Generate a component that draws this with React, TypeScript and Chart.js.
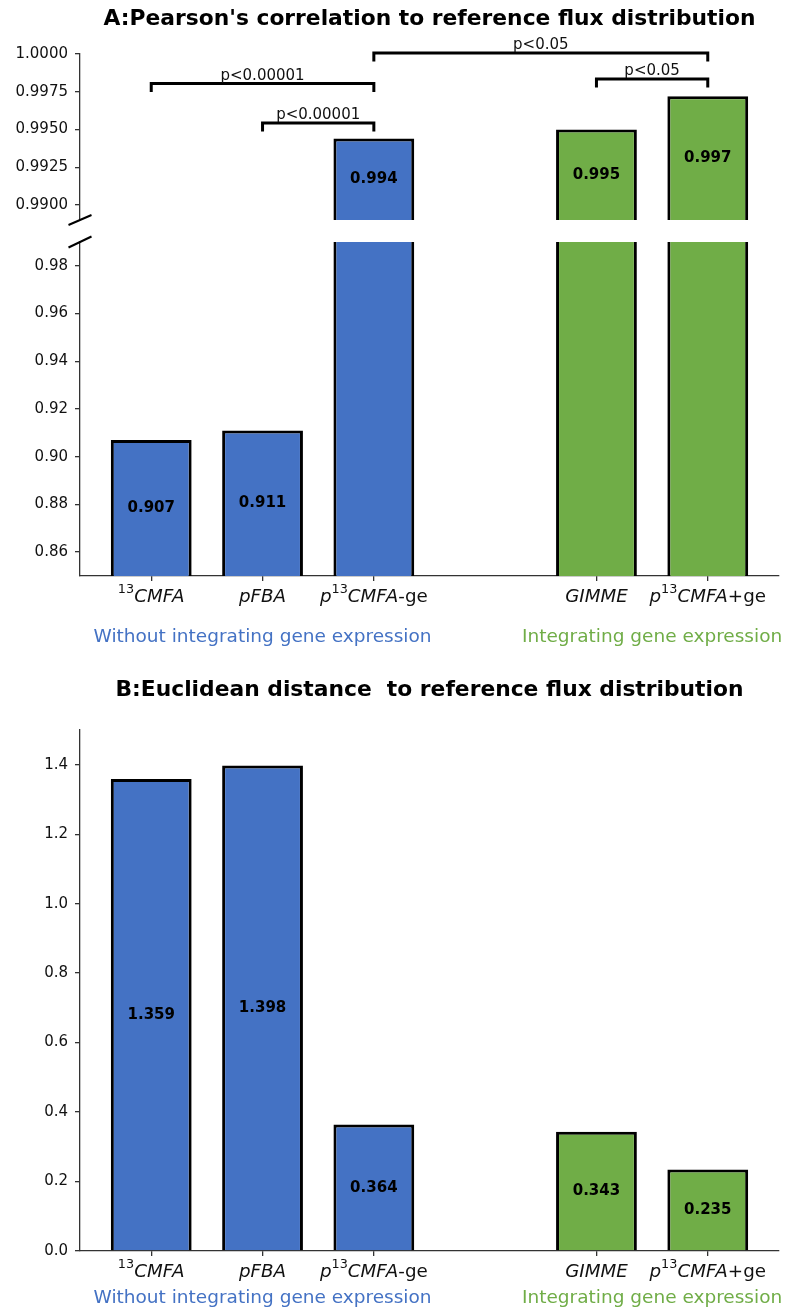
import React, { useEffect, useRef } from 'react';
import { Chart, registerables } from 'chart.js';

Chart.register(...registerables);

// ---------------- data ----------------
const categories = ['$^{13}CMFA$', '$pFBA$', '$p^{13}CMFA$-ge', '$GIMME$', '$p^{13}CMFA$+ge'];
const positions = [0, 1, 2, 4, 5];
const pearsonValues = [0.907, 0.911, 0.9944, 0.995, 0.9972];
const euclideanValues = [1.359, 1.398, 0.364, 0.343, 0.235];
const barColors = ['#4472C4', '#4472C4', '#4472C4', '#70AD47', '#70AD47'];
const groupLabels = ['Without integrating gene expression', 'Integrating gene expression'];
const groupColors = ['#4472C4', '#70AD47'];
const groupMembers = [[0, 1, 2], [3, 4]];
const upperTicks = [0.99, 0.9925, 0.995, 0.9975, 1.0];
const lowerTicks = [0.86, 0.88, 0.9, 0.92, 0.94, 0.96, 0.98];
const euclidTicks = [0, 0.2, 0.4, 0.6, 0.8, 1.0, 1.2, 1.4];
const upperRange = [0.989, 1.0];
const lowerRange = [0.85, 0.99];
const euclidRange = [0, 1.5];
const xRange = [-0.64, 5.64];
const bracketFrom = [0, 1, 2, 3];
const bracketTo = [2, 2, 4, 4];
const bracketHeights = [0.99804, 0.99542, 1.00007, 0.99834];
const bracketLabels = ['p<0.00001', 'p<0.00001', 'p<0.05', 'p<0.05'];
const bracketLeg = 0.00056;
const titleA = "A:Pearson's correlation to reference flux distribution";
const titleB = 'B:Euclidean distance  to reference flux distribution';

// ---------------- style ----------------
const FONT = "'DejaVu Sans', 'Noto Sans', sans-serif";
const AXIS = '#333333';
const TEXT = '#111111';

type Seg = { t: string; italic: boolean; sup: boolean };

function parseRich(s: string): Seg[] {
  const segs: Seg[] = [];
  let math = false;
  let i = 0;
  while (i < s.length) {
    const c = s[i];
    if (c === '$') { math = !math; i++; continue; }
    if (math && c === '^' && s[i + 1] === '{') {
      const j = s.indexOf('}', i);
      segs.push({ t: s.slice(i + 2, j), italic: false, sup: true });
      i = j + 1;
      continue;
    }
    const italic = math && /[A-Za-z]/.test(c);
    const last = segs[segs.length - 1];
    if (last && !last.sup && last.italic === italic) last.t += c;
    else segs.push({ t: c, italic, sup: false });
    i++;
  }
  return segs;
}

function drawRich(ctx: CanvasRenderingContext2D, s: string, cx: number, baseline: number, size: number) {
  const segs = parseRich(s);
  const fontFor = (seg: Seg) => `${seg.italic ? 'italic ' : ''}${seg.sup ? size * 0.7 : size}px ${FONT}`;
  let total = 0;
  const widths = segs.map((seg) => {
    ctx.font = fontFor(seg);
    const w = ctx.measureText(seg.t).width;
    total += w;
    return w;
  });
  let x = cx - total / 2;
  ctx.textAlign = 'left';
  ctx.textBaseline = 'alphabetic';
  ctx.fillStyle = TEXT;
  segs.forEach((seg, k) => {
    ctx.font = fontFor(seg);
    ctx.fillText(seg.t, x, seg.sup ? baseline - size * 0.5 : baseline);
    x += widths[k];
  });
}

type PanelCfg = {
  values: number[];
  yRange: number[];
  yTicks: number[];
  decimals: number;
  showX: boolean;
  padding: { top: number; bottom: number; left: number; right: number };
  xHeight: number;
  title?: string;
  titleOffset?: number;
  brackets?: boolean;
  breakBottom?: boolean;
  breakTop?: boolean;
  xLabels?: boolean;
  groupOffset?: number;
};

function makeConfig(p: PanelCfg): any {
  const decorations = {
    id: 'decorations',
    afterDraw(chart: any) {
      const ctx: CanvasRenderingContext2D = chart.ctx;
      const area = chart.chartArea;
      const xs = chart.scales.x;
      const ys = chart.scales.y;
      ctx.save();

      // title
      if (p.title) {
        ctx.font = `bold 21.8px ${FONT}`;
        ctx.fillStyle = '#000';
        ctx.textAlign = 'center';
        ctx.textBaseline = 'alphabetic';
        ctx.fillText(p.title, (area.left + area.right) / 2, area.top - (p.titleOffset || 0));
      }

      // value labels at the middle of the visible part of each bar
      ctx.font = `bold 15px ${FONT}`;
      ctx.fillStyle = '#000';
      ctx.textAlign = 'center';
      ctx.textBaseline = 'middle';
      p.values.forEach((v, i) => {
        if (v < p.yRange[0] || v > p.yRange[1]) return;
        const y = ys.getPixelForValue((v + p.yRange[0]) / 2);
        ctx.fillText(v.toFixed(3), xs.getPixelForValue(positions[i]), y);
      });

      // significance brackets
      if (p.brackets) {
        ctx.strokeStyle = '#000';
        ctx.lineWidth = 3;
        ctx.lineJoin = 'miter';
        bracketFrom.forEach((a, k) => {
          const x1 = xs.getPixelForValue(positions[a]);
          const x2 = xs.getPixelForValue(positions[bracketTo[k]]);
          const yTop = ys.getPixelForValue(bracketHeights[k]);
          const yLeg = ys.getPixelForValue(bracketHeights[k] - bracketLeg);
          ctx.beginPath();
          ctx.moveTo(x1, yLeg);
          ctx.lineTo(x1, yTop);
          ctx.lineTo(x2, yTop);
          ctx.lineTo(x2, yLeg);
          ctx.stroke();
          ctx.font = `15px ${FONT}`;
          ctx.fillStyle = TEXT;
          ctx.textAlign = 'center';
          ctx.textBaseline = 'alphabetic';
          ctx.fillText(bracketLabels[k], (x1 + x2) / 2, yTop - 4);
        });
      }

      // axis-break marks
      ctx.strokeStyle = '#000';
      ctx.lineWidth = 2;
      if (p.breakBottom) {
        ctx.beginPath();
        ctx.moveTo(area.left - 11.5, area.bottom + 5);
        ctx.lineTo(area.left + 11.5, area.bottom - 5);
        ctx.stroke();
      }
      if (p.breakTop) {
        ctx.beginPath();
        ctx.moveTo(area.left - 11.5, area.top + 5.5);
        ctx.lineTo(area.left + 11.5, area.top - 5.5);
        ctx.stroke();
      }

      // category labels and group labels
      if (p.xLabels) {
        categories.forEach((c, i) => {
          drawRich(ctx, c, xs.getPixelForValue(positions[i]), area.bottom + 26, 18.3);
        });
        ctx.font = `18.5px ${FONT}`;
        ctx.textAlign = 'center';
        ctx.textBaseline = 'alphabetic';
        groupLabels.forEach((g, k) => {
          const members = groupMembers[k];
          const a = xs.getPixelForValue(positions[members[0]]);
          const b = xs.getPixelForValue(positions[members[members.length - 1]]);
          ctx.fillStyle = groupColors[k];
          ctx.fillText(g, (a + b) / 2, area.bottom + (p.groupOffset || 0));
        });
      }
      ctx.restore();
    },
  };

  return {
    type: 'bar',
    data: {
      datasets: [
        {
          data: positions.map((x, i) => ({ x, y: p.values[i] })),
          backgroundColor: barColors,
          borderColor: '#000',
          borderWidth: 3,
          borderSkipped: 'start',
          categoryPercentage: 1,
          barPercentage: 0.726,
          clip: 0,
        },
      ],
    },
    options: {
      responsive: false,
      animation: false,
      events: [],
      layout: { padding: p.padding },
      plugins: { legend: { display: false }, tooltip: { enabled: false }, title: { display: false } },
      scales: {
        x: {
          type: 'linear',
          min: xRange[0],
          max: xRange[1],
          offset: false,
          display: p.showX,
          grid: { offset: false, drawOnChartArea: false, drawTicks: true, tickLength: 5, color: AXIS, lineWidth: 1.3 },
          border: { display: true, color: AXIS, width: 1.3 },
          ticks: { display: false },
          afterBuildTicks: (s: any) => { s.ticks = positions.map((v) => ({ value: v })); },
          afterFit: (s: any) => {
            s.height = p.xHeight;
            s.paddingLeft = 0;
            s.paddingRight = 0;
            s.paddingTop = 0;
            s.paddingBottom = 0;
          },
        },
        y: {
          type: 'linear',
          min: p.yRange[0],
          max: p.yRange[1],
          grid: { drawOnChartArea: false, drawTicks: true, tickLength: 5, color: AXIS, lineWidth: 1.3 },
          border: { display: true, color: AXIS, width: 1.3 },
          ticks: {
            font: { family: FONT, size: 15 },
            color: TEXT,
            padding: 7,
            autoSkip: false,
            callback: (v: any) => Number(v).toFixed(p.decimals),
          },
          afterBuildTicks: (s: any) => { s.ticks = p.yTicks.map((v) => ({ value: v })); },
          afterFit: (s: any) => {
            s.width = 80;
            s.paddingTop = 0;
            s.paddingBottom = 0;
            s.paddingLeft = 0;
            s.paddingRight = 0;
          },
        },
      },
    },
    plugins: [decorations],
  };
}

export default function App() {
  const r1 = useRef<HTMLCanvasElement>(null);
  const r2 = useRef<HTMLCanvasElement>(null);
  const r3 = useRef<HTMLCanvasElement>(null);

  useEffect(() => {
    const charts: Chart[] = [];
    charts.push(
      new Chart(r1.current as HTMLCanvasElement, makeConfig({
        values: pearsonValues,
        yRange: upperRange,
        yTicks: upperTicks,
        decimals: 4,
        showX: false,
        padding: { top: 54, bottom: 12, left: 0, right: 9 },
        xHeight: 0,
        title: titleA,
        titleOffset: 29,
        brackets: true,
        breakBottom: true,
      }))
    );
    charts.push(
      new Chart(r2.current as HTMLCanvasElement, makeConfig({
        values: pearsonValues,
        yRange: lowerRange,
        yTicks: lowerTicks,
        decimals: 2,
        showX: true,
        padding: { top: 10, bottom: 64, left: 0, right: 9 },
        xHeight: 20,
        breakTop: true,
        xLabels: true,
        groupOffset: 66,
      }))
    );
    charts.push(
      new Chart(r3.current as HTMLCanvasElement, makeConfig({
        values: euclideanValues,
        yRange: euclidRange,
        yTicks: euclidTicks,
        decimals: 1,
        showX: true,
        padding: { top: 70, bottom: 37, left: 0, right: 9 },
        xHeight: 20,
        title: titleB,
        titleOffset: 34,
        xLabels: true,
        groupOffset: 52,
      }))
    );
    return () => charts.forEach((c) => c.destroy());
  }, []);

  return (
    <div style={{ position: 'absolute', left: 0, top: 0, width: 788, height: 1308, background: '#fff' }}>
      <canvas ref={r1} width={788} height={232} style={{ position: 'absolute', left: 0, top: 0 }} />
      <canvas ref={r2} width={788} height={428} style={{ position: 'absolute', left: 0, top: 232 }} />
      <canvas ref={r3} width={788} height={648} style={{ position: 'absolute', left: 0, top: 660 }} />
    </div>
  );
}
